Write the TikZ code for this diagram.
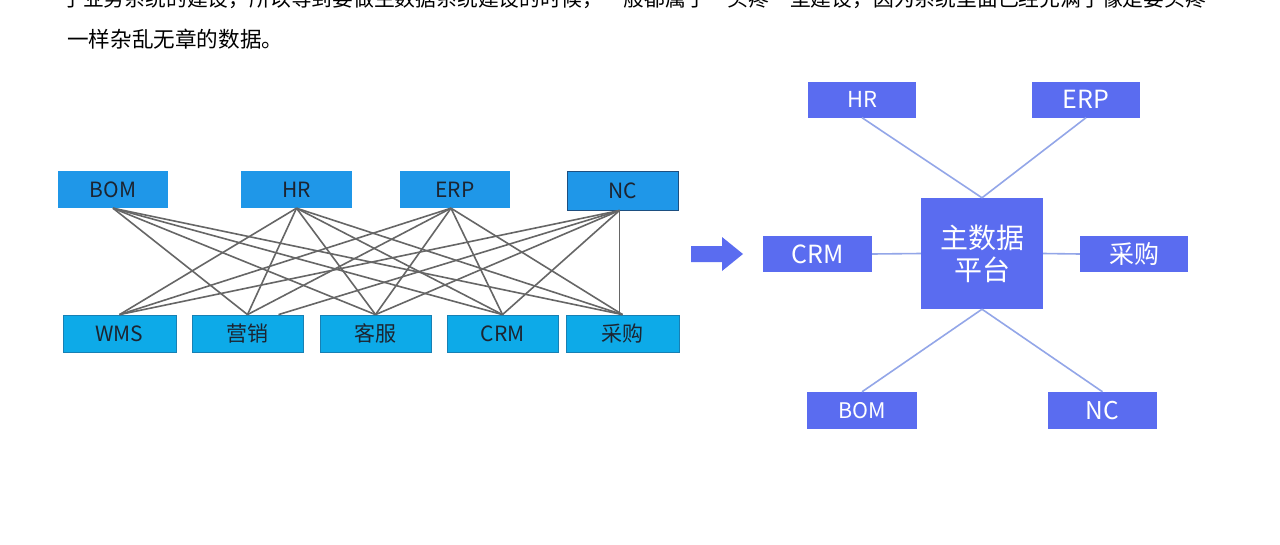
\documentclass[tikz,border=0pt]{standalone}
\usepackage{fontspec}
\setmainfont{Noto Sans CJK SC}
\begin{document}
\begin{tikzpicture}[x=1pt,y=-1pt,
  topbox/.style={draw=none,fill=topblue,minimum width=110pt,minimum height=37pt,inner sep=0pt,font=\fontsize{21}{23}\selectfont,text=lbltext},
  botbox/.style={draw=botedge,line width=0.8pt,fill=botblue,minimum width=111pt,minimum height=37pt,inner sep=0pt,font=\fontsize{21}{23}\selectfont,text=lbltext},
  mess/.style={draw=messgray,line width=1.6pt},
  rbox/.style={fill=rblue,draw=none,minimum width=108pt,minimum height=36pt,inner sep=0pt,text=white},
  star/.style={draw=rline,line width=1.6pt},
  para/.style={anchor=base west,inner sep=0pt,font=\fontsize{21.6}{23}\selectfont,text=black}]
\definecolor{topblue}{HTML}{1F97E8}
\definecolor{botblue}{HTML}{0DAAE8}
\definecolor{botedge}{HTML}{1780B4}
\definecolor{lbltext}{HTML}{1C2430}
\definecolor{messgray}{HTML}{666666}
\definecolor{rblue}{HTML}{5A6CF0}
\definecolor{rline}{HTML}{93A6E8}
\definecolor{ncedge}{HTML}{1D4F80}
\clip (0,0) rectangle (1280,544);
\fill[white] (0,0) rectangle (1280,544);
% paragraph text
\node[para,font=\fontsize{20.8}{23}\selectfont] (p1) at (62,6) {于业务系统的建设，所以等到要做主数据系统建设的时候，一般都属于“头疼”型建设，因为系统里面已经充满了像是要头疼};
\node[para] (p2) at (67,47) {一样杂乱无章的数据。};
% left: tangled
\node[topbox] (bom) at (113,189.5) {BOM};
\node[topbox,minimum width=111pt] (hr) at (296.5,189.5) {HR};
\node[topbox] (erp) at (455,189.5) {ERP};
\node[topbox,draw=ncedge,line width=1pt,minimum width=111pt,minimum height=39pt] (nc) at (622.5,190.5) {NC};
\node[botbox,minimum width=113pt] (wms) at (119.5,333.5) {WMS};
\node[botbox] (yx) at (247.5,333.5) {营销};
\node[botbox] (kf) at (375.5,333.5) {客服};
\node[botbox] (crm) at (502.5,333.5) {CRM};
\node[botbox,minimum width=113pt] (cg) at (622.5,333.5) {采购};
\coordinate (yx2) at ([xshift=31pt]yx.north);
\coordinate (ncb) at ([xshift=-3pt]nc.south);
\coordinate (cgt) at ([xshift=-3pt]cg.north);
\foreach \b in {yx,kf,crm,cg} \draw[mess] (bom.south) -- (\b.north);
\foreach \b in {wms,yx,kf,crm,cg} \draw[mess] (hr.south) -- (\b.north);
\foreach \b in {wms,yx,kf,crm,cg} \draw[mess] ([xshift=-4pt]erp.south) -- (\b.north);
\foreach \b in {wms,kf,crm} \draw[mess] (ncb) -- (\b.north);
\draw[mess] (ncb) -- (yx2);
\draw[mess] (ncb) -- (cgt);
% arrow
\fill[rblue] (691,246) -- (722,246) -- (722,237) -- (743,254) -- (722,271) -- (722,262) -- (691,262) -- cycle;
% right: star
\node[rbox,minimum width=122pt,minimum height=111pt,font=\fontsize{28}{32}\selectfont,align=center] (mdp) at (982,253.5) {主数据\\平台};
\node[rbox,font=\fontsize{22}{24}\selectfont] (rhr) at (862,99.5) {HR};
\node[rbox,font=\fontsize{25}{27}\selectfont] (rerp) at (1086,99.5) {ERP};
\node[rbox,minimum width=109pt,font=\fontsize{25}{27}\selectfont] (rcrm) at (817.5,254) {CRM};
\node[rbox,font=\fontsize{25}{27}\selectfont] (rcg) at (1134,254) {采购};
\node[rbox,minimum width=110pt,minimum height=37pt,font=\fontsize{21.5}{23}\selectfont] (rbom) at (862,410.5) {BOM};
\node[rbox,minimum width=109pt,minimum height=37pt,font=\fontsize{24.5}{26}\selectfont] (rnc) at (1102.5,410.5) {NC};
\draw[star] (rhr.south) -- (mdp.north);
\draw[star] (rerp.south) -- (mdp.north);
\draw[star] (rcrm.east) -- (mdp.west);
\draw[star] (mdp.east) -- (rcg.west);
\draw[star] (mdp.south) -- (rbom.north);
\draw[star] (mdp.south) -- (rnc.north);
\end{tikzpicture}
\end{document}
